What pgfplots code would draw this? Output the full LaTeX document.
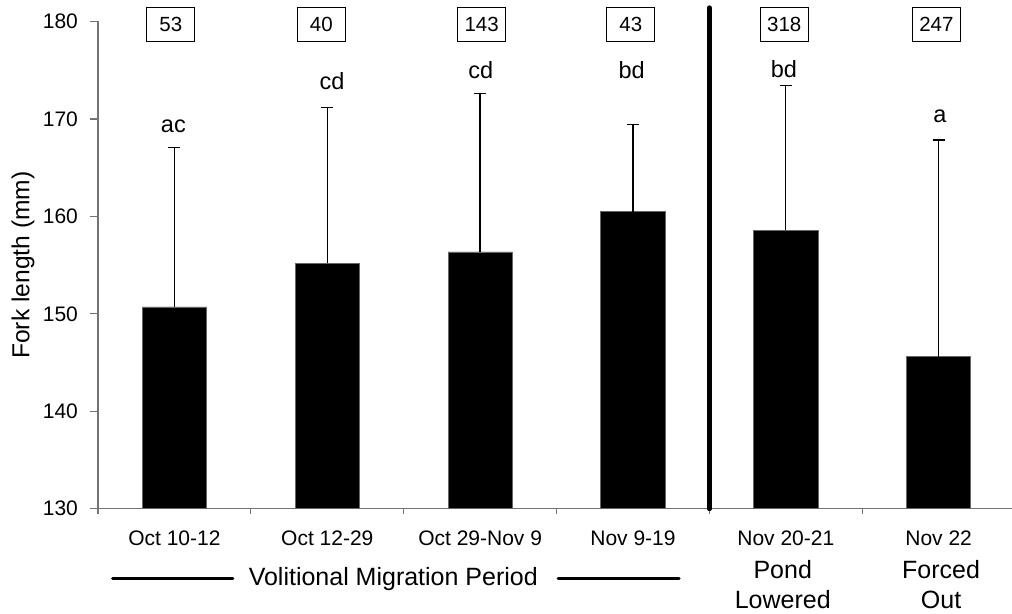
\documentclass[border=0pt]{standalone}
\usepackage{fontspec}
\setmainfont{Liberation Sans}
\usepackage{pgfplots}
\pgfplotsset{compat=1.18}
\begin{document}
\begin{tikzpicture}
\begin{axis}[
  scale only axis, width=457pt, height=243.6pt,
  xmin=-0.5, xmax=5.48, ymin=130, ymax=180,
  clip mode=individual,
  axis x line*=bottom, axis y line*=left,
  axis line style={-, draw=black!55, line width=0.6pt},
  ytick={130,140,...,180},
  xtick={0,...,5},
  xticklabels={Oct 10-12, Oct 12-29, Oct 29-Nov 9, Nov 9-19, Nov 20-21, Nov 22},
  every major x tick/.append style={draw=none},
  minor xtick={-0.5,0.5,1.5,2.5,3.5,4.5},
  tick align=outside,
  major tick length=4pt, minor tick length=2.5pt,
  every tick/.append style={black!55, line width=0.6pt},
  ticklabel style={font=\fontsize{10.5}{12.6}\selectfont},
  xticklabel style={yshift=-3.5pt},
  yticklabel style={xshift=-2.5pt},
  /pgf/number format/assume math mode=true,
  ylabel={Fork length (mm)},
  ylabel style={font=\fontsize{12.3}{14}\selectfont, at={(axis description cs:-0.075,0.5)}, anchor=base},
]
\addplot[ybar, bar width=0.42, bar shift=0pt, fill=black, draw=black!60,
  error bars/.cd, y dir=plus, y explicit,
  error bar style={line width=0.65pt, black},
  error mark options={rotate=90, line width=0.65pt, mark size=3pt, black}]
  coordinates {
  (0,150.7) +- (0,16.4)
  (1,155.2) +- (0,16.0)
  (2,156.35) +- (0,16.25)
  (3,160.5) +- (0,8.9)
  (4,158.6) +- (0,14.8)
  (5,145.6) +- (0,22.25)
  };
% significance letters
\begin{scope}[every node/.style={font=\fontsize{11.75}{14}\selectfont, anchor=base, inner sep=0pt}]
\node at (axis cs:-0.007,168.63) {ac};
\node at (axis cs:1.031,173.04) {cd};
\node at (axis cs:2.004,174.1) {cd};
\node at (axis cs:2.992,174.1) {bd};
\node at (axis cs:3.988,174.27) {bd};
\node at (axis cs:5.009,169.65) {a};
\end{scope}
% sample sizes
\begin{scope}[every node/.style={draw, line width=0.65pt, minimum width=24pt, minimum height=17pt, inner sep=1pt, font=\fontsize{10.25}{12}\selectfont}]
\node at (axis cs:-0.024,179.69) {53};
\node at (axis cs:0.961,179.69) {40};
\node at (axis cs:2.010,179.69) {143};
\node at (axis cs:2.986,179.69) {43};
\node at (axis cs:3.990,179.69) {318};
\node at (axis cs:4.985,179.69) {247};
\end{scope}
% divider
\draw[line width=2.5pt, line cap=round] (axis cs:3.5,130) -- (axis cs:3.5,181.4);
% period annotations
\draw[line width=1.5pt, line cap=round] (axis cs:-0.404,122.86) -- (axis cs:0.383,122.86);
\draw[line width=1.5pt, line cap=round] (axis cs:2.510,122.86) -- (axis cs:3.302,122.86);
\begin{scope}[every node/.style={font=\fontsize{12.5}{15}\selectfont, anchor=base, inner sep=0pt}]
\node at (axis cs:1.432,122.17) {Volitional Migration Period};
\node at (axis cs:3.98,122.86) {Pond};
\node at (axis cs:3.98,119.78) {Lowered};
\node at (axis cs:5.016,122.86) {Forced};
\node at (axis cs:5.016,119.78) {Out};
\end{scope}
\end{axis}
\pgfresetboundingbox
\useasboundingbox ([xshift=-49pt,yshift=-52.15pt]current axis.south west) rectangle ([yshift=10.75pt]current axis.north east);
\end{tikzpicture}
\end{document}
